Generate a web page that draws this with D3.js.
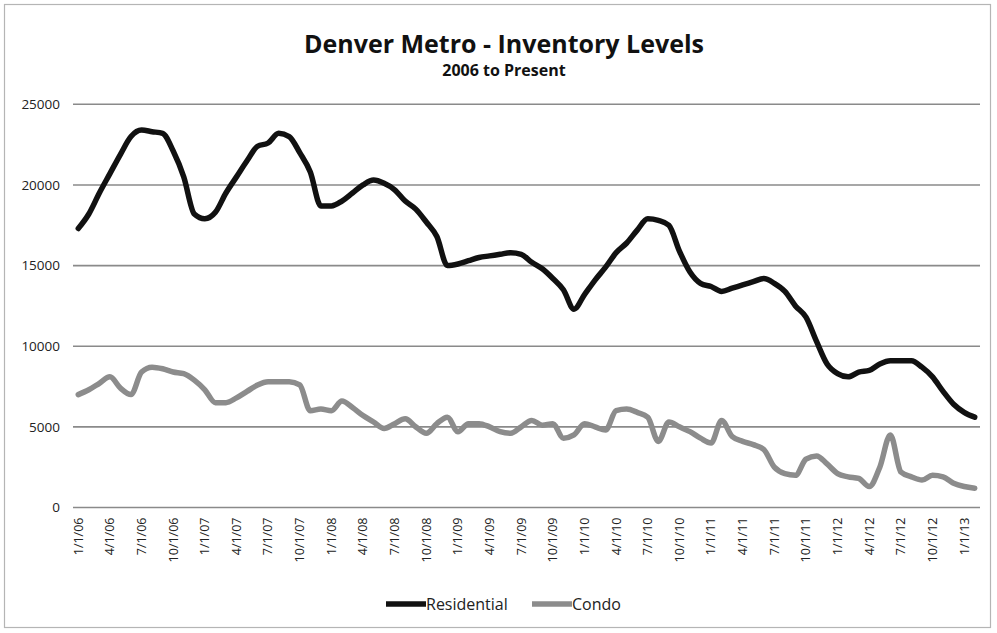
<!DOCTYPE html>
<html>
<head>
<meta charset="utf-8">
<script src="https://cdn.jsdelivr.net/npm/d3@7"></script>
<style>
  html, body { margin: 0; padding: 0; background: #fff; }
  svg { display: block; }
  text { font-family: "Open Sans", "Lato", sans-serif; }
</style>
</head>
<body>
<svg id="chart" width="997" height="633"></svg>
<script>
const categories = [
  "1/1/06","2/1/06","3/1/06","4/1/06","5/1/06","6/1/06","7/1/06","8/1/06","9/1/06","10/1/06","11/1/06","12/1/06",
  "1/1/07","2/1/07","3/1/07","4/1/07","5/1/07","6/1/07","7/1/07","8/1/07","9/1/07","10/1/07","11/1/07","12/1/07",
  "1/1/08","2/1/08","3/1/08","4/1/08","5/1/08","6/1/08","7/1/08","8/1/08","9/1/08","10/1/08","11/1/08","12/1/08",
  "1/1/09","2/1/09","3/1/09","4/1/09","5/1/09","6/1/09","7/1/09","8/1/09","9/1/09","10/1/09","11/1/09","12/1/09",
  "1/1/10","2/1/10","3/1/10","4/1/10","5/1/10","6/1/10","7/1/10","8/1/10","9/1/10","10/1/10","11/1/10","12/1/10",
  "1/1/11","2/1/11","3/1/11","4/1/11","5/1/11","6/1/11","7/1/11","8/1/11","9/1/11","10/1/11","11/1/11","12/1/11",
  "1/1/12","2/1/12","3/1/12","4/1/12","5/1/12","6/1/12","7/1/12","8/1/12","9/1/12","10/1/12","11/1/12","12/1/12",
  "1/1/13","2/1/13"
];

const residential = [
  17300,18200,19500,20700,21900,23000,23400,23300,23200,22100,20500,18200,
  17900,18300,19500,20500,21500,22400,22600,23200,23000,22000,20800,18700,
  18700,19000,19500,20000,20300,20100,19700,19000,18500,17700,16800,15000,
  15100,15300,15500,15600,15700,15800,15700,15200,14800,14200,13500,12300,
  13200,14100,14900,15800,16400,17200,17900,17800,17500,15900,14600,13900,
  13700,13400,13600,13800,14000,14200,13900,13400,12500,11800,10300,8900,
  8300,8100,8400,8500,8900,9100,9100,9100,8700,8100,7200,6400,
  5900,5600
];

const condo = [
  7000,7300,7700,8100,7400,7000,8400,8700,8600,8400,8300,7900,
  7300,6500,6500,6800,7200,7600,7800,7800,7800,7600,6000,6100,
  6000,6600,6200,5700,5300,4900,5200,5500,5000,4600,5200,5600,
  4700,5200,5200,5000,4700,4600,5000,5400,5100,5200,4300,4500,
  5200,5000,4800,6000,6100,5900,5600,4100,5300,5000,4700,4300,
  4000,5400,4400,4100,3900,3600,2500,2100,2000,3000,3200,2700,
  2100,1900,1800,1300,2500,4500,2200,1900,1700,2000,1900,1500,
  1300,1200
];

const tickLabels = [
  "1/1/06","4/1/06","7/1/06","10/1/06","1/1/07","4/1/07","7/1/07","10/1/07",
  "1/1/08","4/1/08","7/1/08","10/1/08","1/1/09","4/1/09","7/1/09","10/1/09",
  "1/1/10","4/1/10","7/1/10","10/1/10","1/1/11","4/1/11","7/1/11","10/1/11",
  "1/1/12","4/1/12","7/1/12","10/1/12","1/1/13"
];

const yTicks = [0, 5000, 10000, 15000, 20000, 25000];

const seriesNames = ["Residential", "Condo"];
const seriesColors = ["#111111", "#8c8c8c"];

const svg = d3.select("#chart");

// outer frame
svg.append("rect")
  .attr("x", 4.5).attr("y", 4.5)
  .attr("width", 986).attr("height", 623)
  .attr("fill", "#fff")
  .attr("stroke", "#b5b5b5").attr("stroke-width", 1.2);

const plotLeft = 73, plotRight = 980, plotTop = 104.3, plotBottom = 507.5;

const x = d3.scaleBand().domain(categories).range([plotLeft, plotRight]).paddingInner(0).paddingOuter(0);
const y = d3.scaleLinear().domain([0, 25000]).range([plotBottom, plotTop]);
const cx = c => x(c) + x.bandwidth() / 2;

// gridlines
svg.append("g")
  .selectAll("line")
  .data(yTicks)
  .join("line")
  .attr("x1", plotLeft).attr("x2", plotRight)
  .attr("y1", d => y(d)).attr("y2", d => y(d))
  .attr("stroke", "#8a8a8a").attr("stroke-width", 1.6);

// y axis labels
const yAxis = d3.axisLeft(y).tickValues(yTicks).tickSize(0).tickPadding(0).tickFormat(d3.format("d"));
const gy = svg.append("g").attr("transform", `translate(${plotLeft - 13},0)`).call(yAxis);
gy.select(".domain").remove();
gy.selectAll("text")
  .attr("font-size", 13.5)
  .attr("fill", "#222")
  .style("font-family", "'Open Sans', sans-serif");

// x axis labels
const xAxis = d3.axisBottom(x).tickValues(tickLabels).tickSize(0).tickPadding(0);
const gx = svg.append("g").attr("transform", `translate(0,${plotBottom + 10})`).call(xAxis);
gx.select(".domain").remove();
gx.selectAll("text")
  .attr("font-size", 12.5)
  .attr("fill", "#222")
  .attr("text-anchor", "end")
  .attr("x", 0).attr("y", 0)
  .attr("dy", "0.35em")
  .attr("transform", "rotate(-90)");

// lines
const line = d3.line()
  .x((d, i) => cx(categories[i]))
  .y(d => y(d))
  .curve(d3.curveMonotoneX);

const allSeries = [residential, condo];
svg.append("g")
  .selectAll("path")
  .data([1, 0])
  .join("path")
  .attr("d", k => line(allSeries[k]))
  .attr("fill", "none")
  .attr("stroke", k => seriesColors[k])
  .attr("stroke-width", 5.5)
  .attr("stroke-linejoin", "round")
  .attr("stroke-linecap", "round");

// title
svg.append("text")
  .attr("x", 504).attr("y", 53)
  .attr("text-anchor", "middle")
  .attr("font-size", 25)
  .attr("font-weight", "bold")
  .attr("fill", "#111")
  .text("Denver Metro - Inventory Levels");

svg.append("text")
  .attr("x", 504).attr("y", 76)
  .attr("text-anchor", "middle")
  .attr("font-size", 16)
  .attr("font-weight", "bold")
  .attr("fill", "#111")
  .text("2006 to Present");

// legend
const legendItems = [
  { name: seriesNames[0], color: seriesColors[0], x: 386 },
  { name: seriesNames[1], color: seriesColors[1], x: 532 }
];
const lg = svg.append("g");
legendItems.forEach(it => {
  lg.append("line")
    .attr("x1", it.x).attr("x2", it.x + 40)
    .attr("y1", 604).attr("y2", 604)
    .attr("stroke", it.color).attr("stroke-width", 5.5);
  lg.append("text")
    .attr("x", it.x + 40).attr("y", 610)
    .attr("font-size", 16)
    .attr("fill", "#222")
    .text(it.name);
});
</script>
</body>
</html>
